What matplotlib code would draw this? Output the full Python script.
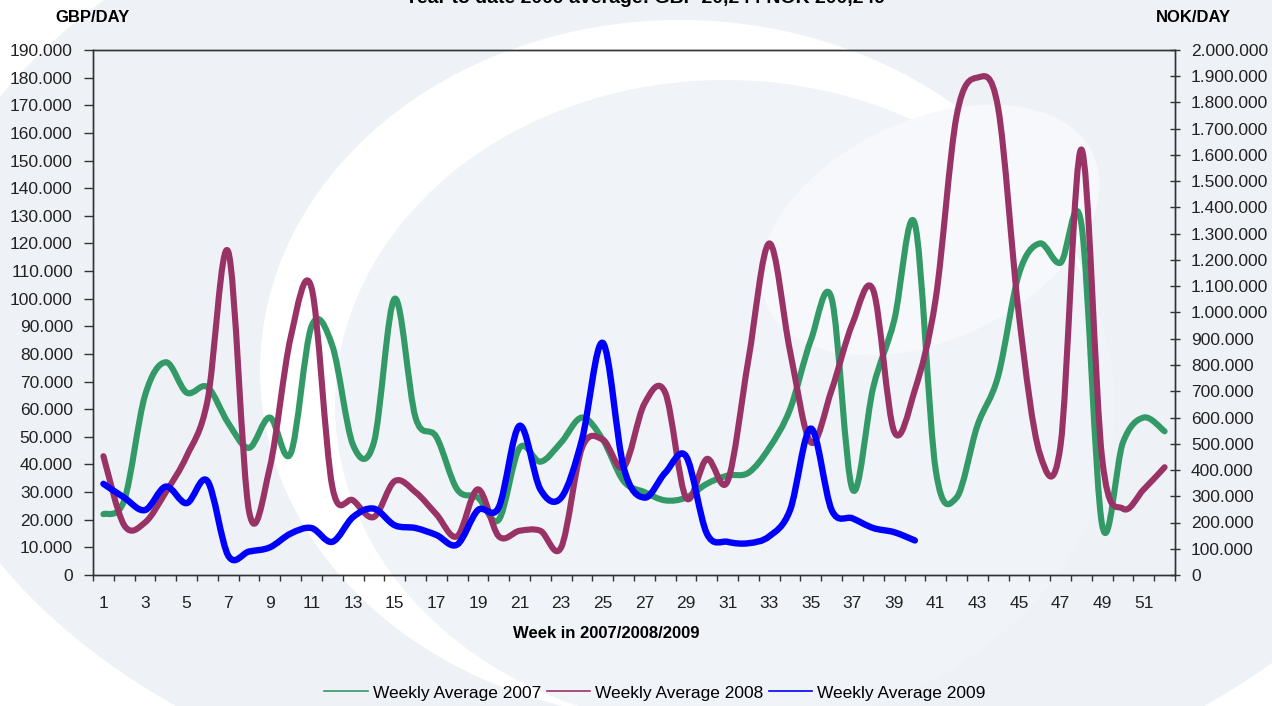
import matplotlib
matplotlib.use("Agg")
import matplotlib.pyplot as plt
from matplotlib.path import Path
from matplotlib.patches import PathPatch, Ellipse
from matplotlib.lines import Line2D
from matplotlib.ticker import FuncFormatter, MultipleLocator
import numpy as np

plt.rcParams['font.family'] = ['Liberation Sans', 'DejaVu Sans']

weeks_2007 = list(range(1, 53))
avg_2007 = [22, 27, 65, 77, 66, 68, 55, 46, 57, 44, 90, 83, 47, 48, 100, 57, 50, 31, 28, 20,
            46, 41, 48, 57, 49, 34, 30, 27, 28, 33, 36, 37, 46, 60, 85, 100, 31, 68, 92, 127,
            38, 28, 54, 72, 109, 120, 113, 127, 18, 48, 57, 52]
weeks_2008 = list(range(1, 53))
avg_2008 = [43, 18, 19, 30, 43, 63, 117, 23, 39, 86, 104, 32, 27, 21, 34, 30, 22, 14, 31, 14,
            16, 16, 10, 46, 49, 39, 62, 66, 28, 42, 34, 78, 120, 81, 48, 67, 91, 103, 52, 67,
            100, 166, 180, 169, 94, 44, 47, 154, 42, 24, 31, 39]
weeks_2009 = list(range(1, 41))
avg_2009 = [33, 28, 23.5, 32, 26, 34, 7, 8.5, 10, 15, 17, 12, 21, 24, 18, 17, 14.5, 11, 23.5, 24.5,
            54, 31, 28, 49, 84, 39, 28, 37, 43, 15, 12, 11.5, 14, 23.5, 53, 23.5, 20.5, 17, 15.5, 12.5]

series_labels = ["Weekly Average 2007", "Weekly Average 2008", "Weekly Average 2009"]
series_colors = ["#339966", "#993366", "#0000FF"]
x_tick_labels = [str(w) for w in range(1, 53, 2)]

W, H = 1272, 706
fig = plt.figure(figsize=(W / 100, H / 100), dpi=100)
fig.patch.set_facecolor("white")

# background watermark (approximation of the logo swoosh)
bg = fig.add_axes([0, 0, 1, 1], zorder=-10)
bg.set_xlim(0, W)
bg.set_ylim(H, 0)
bg.axis("off")
bg.add_patch(Ellipse((690, 330), 1560, 1000, facecolor="#eef1f6", edgecolor="none"))
bg.add_patch(Ellipse((680, 370), 840, 700, facecolor="white", edgecolor="none"))
bg.add_patch(Ellipse((725, 405), 780, 650, facecolor="#f0f3f7", edgecolor="none"))
bg.add_patch(Ellipse((930, 230), 360, 220, angle=-25, facecolor="#f7f8fb", edgecolor="none"))

ax = fig.add_axes([93 / W, 1 - 575 / H, (1175 - 93) / W, (575 - 50) / H])
ax.patch.set_alpha(0)


def smooth_path(xs, ys):
    xs = np.asarray(xs, float)
    ys = np.asarray(ys, float) * 1000
    pts = np.column_stack([xs, ys])
    n = len(pts)
    verts = [pts[0]]
    codes = [Path.MOVETO]
    for i in range(n - 1):
        p0 = pts[i - 1] if i > 0 else pts[i]
        p1 = pts[i]
        p2 = pts[i + 1]
        p3 = pts[i + 2] if i + 2 < n else pts[i + 1]
        c1 = p1 + (p2 - p0) / 6.0
        c2 = p2 - (p3 - p1) / 6.0
        verts += [c1, c2, p2]
        codes += [Path.CURVE4] * 3
    return Path(verts, codes)


for xs, ys, col, lw in [(weeks_2007, avg_2007, series_colors[0], 4.4),
                        (weeks_2008, avg_2008, series_colors[1], 4.4),
                        (weeks_2009, avg_2009, series_colors[2], 4.6)]:
    ax.add_patch(PathPatch(smooth_path(xs, ys), facecolor="none", edgecolor=col,
                           lw=lw, capstyle="round", joinstyle="round"))

ax.set_xlim(0.5, 52.5)
ax.set_ylim(0, 190000)

# x ticks between categories; labels on odd weeks
ax.set_xticks(np.arange(0.5, 53, 1))
ax.set_xticklabels([])
ax.set_xticks(range(1, 53, 2), minor=True)
ax.set_xticklabels(x_tick_labels, minor=True)
ax.tick_params(axis="x", which="major", direction="out", length=4.5, width=1, color="#333333")
ax.tick_params(axis="x", which="minor", length=0, pad=15, labelsize=12.5, labelcolor="#222222")


def fmt(v, p):
    return "0" if v == 0 else f"{int(round(v)):,}".replace(",", ".")


ax.yaxis.set_major_locator(MultipleLocator(10000))
ax.yaxis.set_major_formatter(FuncFormatter(fmt))
ax.tick_params(axis="y", direction="out", length=6.5, width=1, color="#333333", labelsize=12.5,
               pad=8, labelcolor="#222222")

for s in ax.spines.values():
    s.set_color("#333333")
    s.set_linewidth(1)

ax2 = ax.twinx()
ax2.set_ylim(0, 2000000)
ax2.yaxis.set_major_locator(MultipleLocator(100000))
ax2.yaxis.set_major_formatter(FuncFormatter(fmt))
ax2.tick_params(axis="y", direction="inout", length=7, width=1, color="#333333", labelsize=12.5,
                pad=8, labelcolor="#222222")
for s in ax2.spines.values():
    s.set_color("#333333")
    s.set_linewidth(1)

fig.text(92 / W, 1 - 18 / H, "GBP/DAY", ha="center", va="center", fontsize=12, fontweight="bold")
fig.text(1193 / W, 1 - 18 / H, "NOK/DAY", ha="center", va="center", fontsize=12, fontweight="bold")
fig.text(645 / W, 1 - 3 / H, "Year to date 2009 average: GBP 20,244 NOK 200,249", ha="center",
         va="baseline", fontsize=14, fontweight="bold")
fig.text(606 / W, 1 - 633 / H, "Week in 2007/2008/2009", ha="center", va="center",
         fontsize=12, fontweight="bold")

handles = [Line2D([], [], color=c, lw=1.2) for c in series_colors]
fig.legend(handles, series_labels, loc="center", bbox_to_anchor=(655 / W, 1 - 693 / H), ncol=3,
           frameon=False, fontsize=12.5, handlelength=2.5, handletextpad=0.3, columnspacing=0.3)

fig.savefig("out.png", dpi=100, facecolor=fig.get_facecolor())
